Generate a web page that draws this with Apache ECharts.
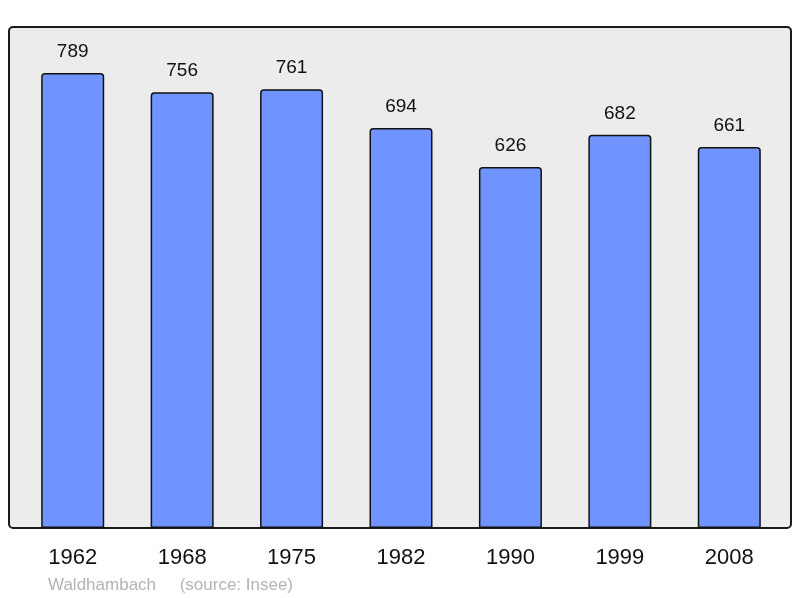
<!DOCTYPE html>
<html>
<head>
<meta charset="utf-8">
<script src="https://cdn.jsdelivr.net/npm/echarts@6/dist/echarts.min.js"></script>
<style>
  html, body { margin: 0; padding: 0; background: #fff; }
  #chart { width: 800px; height: 598px; }
</style>
</head>
<body>
<div id="chart"></div>
<script>
var years = ["1962", "1968", "1975", "1982", "1990", "1999", "2008"];
var population = [789, 756, 761, 694, 626, 682, 661];

var chart = echarts.init(document.getElementById("chart"));
chart.setOption({
  animation: false,
  grid: { left: 18, right: 16, top: 27, bottom: 70 },
  graphic: [
    {
      type: "rect",
      z: 0,
      shape: { x: 9, y: 27, width: 782, height: 501, r: 4 },
      style: { fill: "#ececec", stroke: "#1a1a1a", lineWidth: 2 }
    },
    {
      type: "text",
      left: 48,
      top: 577,
      style: {
        text: "Waldhambach     (source: Insee)",
        fill: "#b3b3b3",
        font: "17px 'Liberation Sans', Arial, sans-serif"
      }
    }
  ],
  xAxis: {
    type: "category",
    data: years,
    axisLine: { show: false },
    axisTick: { show: false },
    axisLabel: {
      color: "#111",
      fontSize: 22,
      fontFamily: "'Liberation Sans', Arial, sans-serif",
      margin: 19
    }
  },
  yAxis: {
    type: "value",
    min: 0,
    max: 869,
    show: false,
    splitLine: { show: false }
  },
  series: [{
    type: "bar",
    data: population,
    barWidth: 63,
    itemStyle: {
      color: "#7094ff",
      borderColor: "#111",
      borderWidth: 1.5,
      borderRadius: [3, 3, 0, 0]
    },
    label: {
      show: true,
      position: "top",
      distance: 12,
      color: "#111",
      fontSize: 19,
      fontFamily: "'Liberation Sans', Arial, sans-serif"
    }
  }]
});
</script>
</body>
</html>
